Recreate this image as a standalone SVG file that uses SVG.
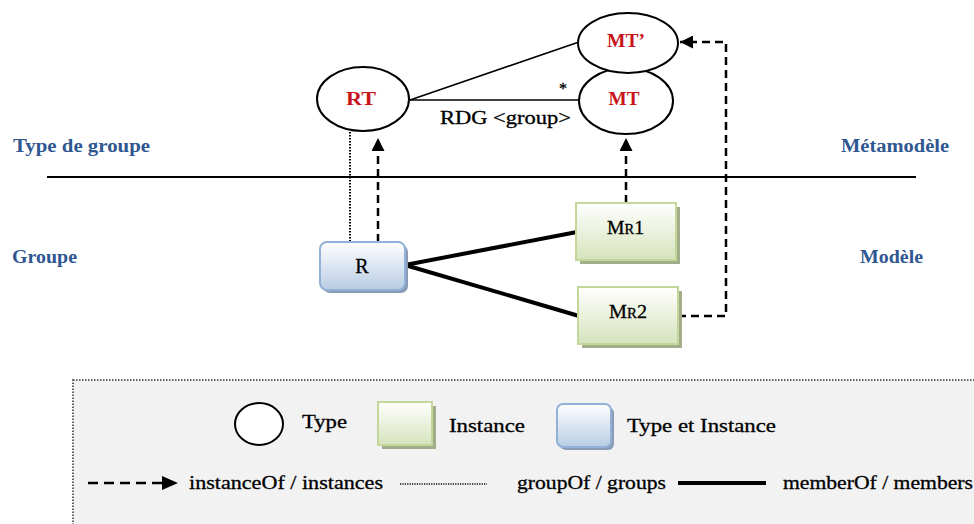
<svg xmlns="http://www.w3.org/2000/svg" width="974" height="524" viewBox="0 0 974 524">
  <defs>
    <linearGradient id="gGreen" x1="0" y1="0" x2="0" y2="1">
      <stop offset="0" stop-color="#ffffff"/>
      <stop offset="1" stop-color="#d6e3bc"/>
    </linearGradient>
    <linearGradient id="gBlue" x1="0" y1="0" x2="0" y2="1">
      <stop offset="0" stop-color="#ffffff"/>
      <stop offset="1" stop-color="#b8cce4"/>
    </linearGradient>
    <marker id="arrow" viewBox="0 0 10 10" refX="10" refY="5" markerWidth="13" markerHeight="13" markerUnits="userSpaceOnUse" orient="auto">
      <path d="M0,0 L10,5 L0,10 Z" fill="#000"/>
    </marker>
  </defs>
  <style>
    .txt { font-family: "Liberation Serif", "Times New Roman", serif; fill: #000; stroke: #000; stroke-width: 0.3; }
    .lvl { font-family: "Liberation Serif", "Times New Roman", serif; font-weight: bold; font-size: 18px; fill: #2f5791; }
    .red { font-family: "Liberation Serif", "Times New Roman", serif; font-weight: bold; font-size: 19px; fill: #c9141b; }
    .type { fill: #fff; stroke: #000; stroke-width: 2; }
    .inst { fill: url(#gGreen); stroke: #c4d79b; stroke-width: 2; }
    .inst-sh { fill: #a3ad8a; }
    .both { fill: url(#gBlue); stroke: #93b1d6; stroke-width: 2; }
    .both-sh { fill: #8a9bb5; }
    .dash { fill: none; stroke: #000; stroke-width: 2.5; stroke-dasharray: 8 5; }
    .dot { fill: none; stroke: #000; stroke-width: 2; stroke-dasharray: 1.5 1.5; }
    .thin { fill: none; stroke: #000; stroke-width: 1.6; }
    .thick { fill: none; stroke: #000; stroke-width: 4; }
  </style>

  <!-- level labels and separator -->
  <g id="levels">
    <line x1="47" y1="177" x2="916" y2="177" stroke="#000" stroke-width="2"/>
    <text class="lvl" x="13" y="152" textLength="137" lengthAdjust="spacingAndGlyphs">Type de groupe</text>
    <text class="lvl" x="12" y="263" textLength="65" lengthAdjust="spacingAndGlyphs">Groupe</text>
    <text class="lvl" x="841" y="152" textLength="108" lengthAdjust="spacingAndGlyphs">Métamodèle</text>
    <text class="lvl" x="860" y="263" textLength="63" lengthAdjust="spacingAndGlyphs">Modèle</text>
  </g>

  <!-- connectors -->
  <g id="connectors">
    <line class="thin" x1="410" y1="100" x2="579" y2="42"/>
    <line class="thin" x1="410" y1="100" x2="580" y2="100"/>
    <text class="txt" x="563" y="94" font-size="16" text-anchor="middle">*</text>
    <text class="txt" x="440" y="124" font-size="18" textLength="131" lengthAdjust="spacingAndGlyphs">RDG &lt;group&gt;</text>
    <line class="dot" x1="350" y1="132" x2="350" y2="242"/>
    <line class="dash" x1="378" y1="242" x2="378" y2="138" marker-end="url(#arrow)"/>
    <line class="dash" x1="626" y1="203" x2="626" y2="138" marker-end="url(#arrow)"/>
    <line class="thick" x1="405" y1="265" x2="577" y2="232"/>
    <line class="thick" x1="405" y1="265" x2="579" y2="316"/>
    <polyline class="dash" points="678,316 726,316 726,42 680,42" marker-end="url(#arrow)"/>
  </g>

  <!-- type nodes -->
  <g id="node-RT">
    <ellipse class="type" cx="363" cy="99" rx="46" ry="32"/>
    <text class="red" x="361" y="105" text-anchor="middle" textLength="30" lengthAdjust="spacingAndGlyphs">RT</text>
  </g>
  <g id="node-MT">
    <ellipse class="type" cx="626" cy="101" rx="47" ry="33"/>
    <text class="red" x="624" y="105" text-anchor="middle" textLength="31" lengthAdjust="spacingAndGlyphs">MT</text>
  </g>
  <g id="node-MTprime">
    <ellipse class="type" cx="628" cy="43" rx="50" ry="30"/>
    <text class="red" x="626" y="47" text-anchor="middle" textLength="38" lengthAdjust="spacingAndGlyphs">MT’</text>
  </g>

  <!-- group node (type and instance) -->
  <g id="node-R">
    <rect class="both-sh" x="323" y="245" width="85" height="48" rx="7"/>
    <rect class="both" x="320" y="242" width="85" height="48" rx="7"/>
    <text class="txt" x="362" y="273" font-size="20" text-anchor="middle">R</text>
  </g>

  <!-- member instances -->
  <g id="node-MR1">
    <rect class="inst-sh" x="580" y="207" width="100" height="57"/>
    <rect class="inst" x="576" y="203" width="100" height="57"/>
    <text class="txt" x="607" y="234" font-size="19" textLength="37" lengthAdjust="spacingAndGlyphs">M<tspan font-size="14">R</tspan>1</text>
  </g>
  <g id="node-MR2">
    <rect class="inst-sh" x="582" y="291" width="100" height="57"/>
    <rect class="inst" x="578" y="287" width="100" height="57"/>
    <text class="txt" x="609" y="318" font-size="19" textLength="38" lengthAdjust="spacingAndGlyphs">M<tspan font-size="14">R</tspan>2</text>
  </g>

  <!-- legend -->
  <g id="legend">
    <rect x="73" y="380" width="910" height="160" fill="#f2f2f2" stroke="#333" stroke-width="1.5" stroke-dasharray="1.5 1.5"/>
    <ellipse class="type" cx="259" cy="424" rx="24" ry="21"/>
    <text class="txt" x="302" y="428" font-size="19" textLength="45" lengthAdjust="spacingAndGlyphs">Type</text>
    <rect class="inst-sh" x="382" y="406" width="54" height="43"/>
    <rect class="inst" x="378" y="402" width="54" height="43"/>
    <text class="txt" x="449" y="432" font-size="19" textLength="76" lengthAdjust="spacingAndGlyphs">Instance</text>
    <rect class="both-sh" x="560" y="407" width="54" height="43" rx="6"/>
    <rect class="both" x="557" y="404" width="54" height="43" rx="6"/>
    <text class="txt" x="627" y="432" font-size="19" textLength="149" lengthAdjust="spacingAndGlyphs">Type et Instance</text>

    <line x1="88" y1="483" x2="162" y2="483" stroke="#000" stroke-width="2.5" stroke-dasharray="10 6"/>
    <path d="M162,476 L178,483 L162,490 Z" fill="#000"/>
    <text class="txt" x="189" y="489" font-size="19" textLength="194" lengthAdjust="spacingAndGlyphs">instanceOf / instances</text>
    <line x1="400" y1="484" x2="487" y2="484" stroke="#000" stroke-width="1.5" stroke-dasharray="1.2 1.2"/>
    <text class="txt" x="517" y="489" font-size="19" textLength="149" lengthAdjust="spacingAndGlyphs">groupOf / groups</text>
    <line x1="678" y1="483" x2="766" y2="483" stroke="#000" stroke-width="4"/>
    <text class="txt" x="783" y="489" font-size="19" textLength="190" lengthAdjust="spacingAndGlyphs">memberOf / members</text>
  </g>
</svg>
